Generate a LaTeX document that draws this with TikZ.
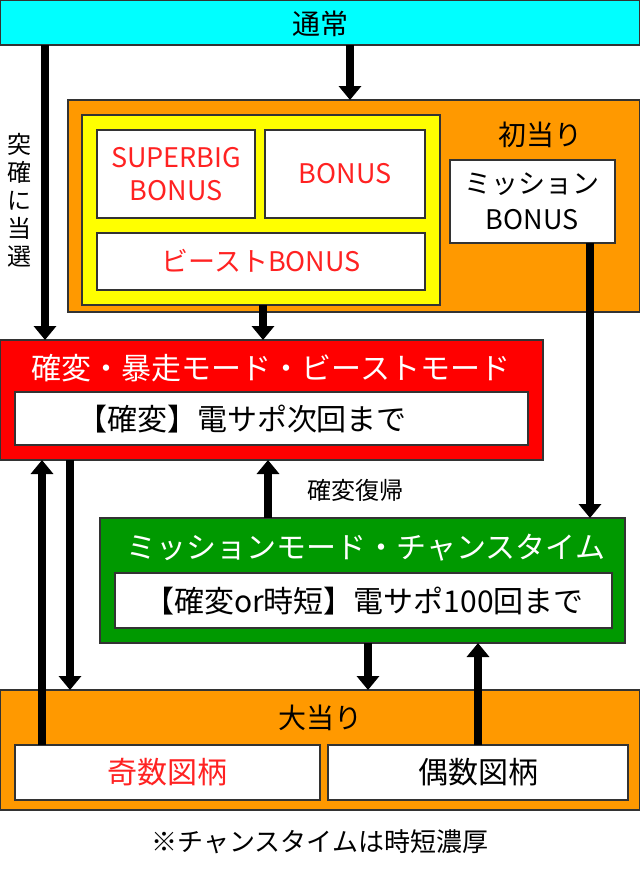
\documentclass[tikz,border=0pt]{standalone}
\usepackage{fontspec}
\setmainfont{Noto Sans CJK JP}
\usetikzlibrary{arrows.meta}
\definecolor{cyanc}{HTML}{00FFFF}
\definecolor{orangec}{HTML}{FF9900}
\definecolor{redc}{HTML}{FF0000}
\definecolor{greenc}{HTML}{009900}
\definecolor{yellowc}{HTML}{FFFF00}
\definecolor{bordc}{HTML}{333333}
\definecolor{redtxt}{HTML}{FF2222}
\begin{document}
\begin{tikzpicture}[x=1pt,y=-1pt,
  box/.style={draw=bordc,line width=1.5pt,anchor=north west,inner sep=0pt,outer sep=0pt},
  wbox/.style={box,fill=white},
  arr/.style={line width=8pt,-{Triangle[length=14pt,width=22pt]}},
  lbl/.style={font=\fontsize{30}{34}\selectfont}]
\useasboundingbox (0,0) rectangle (640,873);
\fill[white] (0,0) rectangle (640,873);
% top
\node[box,fill=cyanc,minimum width=640,minimum height=45] (tsujo) at (0,0) {};
\node[lbl,font=\fontsize{28}{32}\selectfont] at (320,24) {通常};
% hatsu atari
\node[box,fill=orangec,minimum width=572,minimum height=212] (hatsu) at (68,100) {};
\node[lbl,font=\fontsize{28}{32}\selectfont] at (540,135) {初当り};
\node[box,fill=yellowc,minimum width=358,minimum height=190] (yel) at (82,115) {};
\node[wbox,minimum width=158,minimum height=88] (sb) at (97,130) {};
\node[lbl,text=redtxt,align=center,font=\fontsize{27}{33}\selectfont] at (176,174) {SUPERBIG\\BONUS};
\node[wbox,minimum width=160,minimum height=88] (bo) at (265,130) {};
\node[lbl,text=redtxt,font=\fontsize{27}{30}\selectfont] at (345,174) {BONUS};
\node[wbox,minimum width=328,minimum height=57] (be) at (97,233) {};
\node[lbl,text=redtxt,font=\fontsize{27}{30}\selectfont] at (261,261) {ビーストBONUS};
\node[wbox,minimum width=165,minimum height=83] (mb) at (450,160) {};
\node[lbl,align=center,font=\fontsize{27}{36}\selectfont] at (532,201) {ミッション\\BONUS};
% red
\node[box,fill=redc,minimum width=543,minimum height=120] (red) at (0,340) {};
\node[lbl,text=white] at (271,368) {確変・暴走モード・ビーストモード};
\node[wbox,minimum width=513,minimum height=53] (redin) at (15,392) {};
\node[lbl] at (242,419) {【確変】電サポ次回まで};
% green
\node[box,fill=greenc,minimum width=525,minimum height=125] (grn) at (100,518) {};
\node[lbl,text=white] at (366,548) {ミッションモード・チャンスタイム};
\node[wbox,minimum width=497,minimum height=55] (grnin) at (115,573) {};
\node[lbl] at (364,601) {【確変or時短】電サポ100回まで};
% bottom
\node[box,fill=orangec,minimum width=640,minimum height=120] (dai) at (0,690) {};
\node[lbl,font=\fontsize{28}{32}\selectfont] at (320,718) {大当り};
\node[wbox,minimum width=305,minimum height=55] (kisu) at (15,745) {};
\node[lbl,text=redtxt] at (167,772) {奇数図柄};
\node[wbox,minimum width=300,minimum height=55] (gusu) at (328,745) {};
\node[lbl] at (478,772) {偶数図柄};
\node[lbl,font=\fontsize{26}{30}\selectfont] (note) at (320,842) {※チャンスタイムは時短濃厚};
% labels
\node[lbl,font=\fontsize{24}{28}\selectfont,align=center,inner sep=0pt] (totsu) at (19,200) {突\\確\\に\\当\\選};
\node[lbl,font=\fontsize{24}{28}\selectfont] (fukki) at (355,490) {確変復帰};
% arrows
\draw[arr] (tsujo.south -| 350,0) -- (hatsu.north -| 350,0);
\draw[arr] (tsujo.south -| 45,0) -- (red.north -| 45,0);
\draw[arr] (yel.south -| 263,0) -- (red.north -| 263,0);
\draw[arr] (mb.south -| 590,0) -- (grn.north -| 590,0);
\draw[arr] (grn.north -| 268,0) -- (red.south -| 268,0);
\draw[arr] (red.south -| 70,0) -- (dai.north -| 70,0);
\draw[arr] (kisu.north -| 42,0) -- (red.south -| 42,0);
\draw[arr] (grn.south -| 368,0) -- (dai.north -| 368,0);
\draw[arr] (gusu.north -| 478,0) -- (grn.south -| 478,0);
\end{tikzpicture}
\end{document}
